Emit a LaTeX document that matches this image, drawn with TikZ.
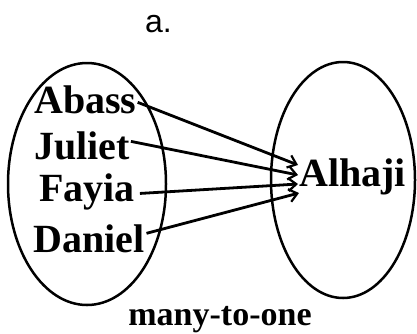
\documentclass[tikz,border=0pt]{standalone}
\usepackage{fontspec}
\setmainfont{Liberation Serif}
\setsansfont{Liberation Sans}
\usetikzlibrary{arrows.meta}

\begin{document}
\begin{tikzpicture}[x=1pt,y=-1pt,
    namelabel/.style={anchor=base west, inner sep=0pt, font=\bfseries\fontsize{40}{41}\selectfont},
    maparrow/.style={-{Straight Barb[length=8pt,width=13pt,line width=2.2pt]}, line width=2.8pt}]
    \useasboundingbox (0,0) rectangle (417,333);

    % --- 1. title ---
    \node[anchor=base west, inner sep=0pt, font=\sffamily\fontsize{32}{34}\selectfont] (title) at (145,32) {a.};

    % --- 2. the two sets ---
    \draw[line width=2.5pt] (87,184) ellipse [x radius=79, y radius=121];
    \draw[line width=2.5pt] (343,180) ellipse [x radius=72, y radius=118];

    % --- 3. elements ---
    \node[namelabel] (abass)  at (34,113) {Abass};
    \node[namelabel] (juliet) at (34,159) {Juliet};
    \node[namelabel] (fayia)  at (39,201) {Fayia};
    \node[namelabel] (daniel) at (33,252) {Daniel};
    \node[namelabel] (alhaji) at (299,186) {Alhaji};

    % tips of the arrows, stacked left of Alhaji
    \coordinate (tipA) at (298,165);
    \coordinate (tipJ) at (298,175);
    \coordinate (tipF) at (298,184);
    \coordinate (tipD) at (299,193);

    % --- 4. mapping ---
    \draw[maparrow] ([shift={(1,3)}]abass.east) -- (tipA);
    \draw[maparrow] ([shift={(1,-4)}]juliet.east) -- (tipJ);
    \draw[maparrow] ([shift={(5,2)}]fayia.east) -- (tipF);
    \draw[maparrow] ([shift={(2,-5)}]daniel.east) -- (tipD);

    % --- 5. caption ---
    \node[anchor=base, inner sep=0pt, font=\bfseries\fontsize{34}{36}\selectfont] (kind) at (220,325) {many-to-one};
\end{tikzpicture}
\end{document}
